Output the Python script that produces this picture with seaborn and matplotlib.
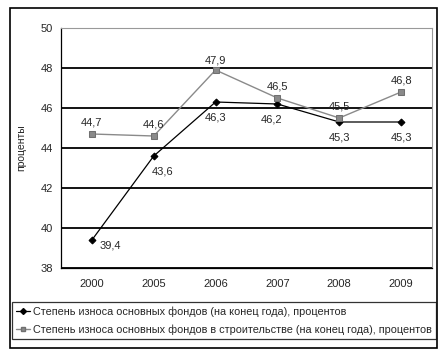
import matplotlib
matplotlib.use("Agg")
import matplotlib.pyplot as plt
import seaborn as sns
import pandas as pd
from matplotlib.patches import Rectangle
from matplotlib.lines import Line2D

years = ["2000", "2005", "2006", "2007", "2008", "2009"]
total = [39.4, 43.6, 46.3, 46.2, 45.3, 45.3]
construction = [44.7, 44.6, 47.9, 46.5, 45.5, 46.8]
name_total = "Степень износа основных фондов (на конец года), процентов"
name_constr = "Степень износа основных фондов в строительстве (на конец года), процентов"
y_label = "проценты"

sns.set_style("white")
plt.rcParams['font.family'] = ['Liberation Sans', 'DejaVu Sans']

fig = plt.figure(figsize=(4.47, 3.52), dpi=100)
ax = fig.add_axes([61/447, 1-268/352, (432-61)/447, (268-28)/352])

idx = list(range(len(years)))
df = pd.DataFrame({"x": idx * 2,
                   "y": total + construction,
                   "s": [name_total] * len(years) + [name_constr] * len(years)})

sns.lineplot(data=df[df.s == name_total], x="x", y="y", ax=ax, color="black",
             lw=0.9, marker="D", markersize=3.5, markeredgecolor="black", legend=False)
sns.lineplot(data=df[df.s == name_constr], x="x", y="y", ax=ax, color="#8a8a8a",
             lw=1.0, marker="s", markersize=4.5, markeredgecolor="#707070", legend=False)

ax.set_ylim(38, 50)
ax.set_xlim(-0.5, 5.5)
ax.set_yticks(range(38, 51, 2))
ax.set_xticks(idx)
ax.set_xticklabels(years)
ax.set_xticks([i - 0.5 for i in range(7)], minor=True)
ax.tick_params(axis='x', which='major', length=0, labelsize=8, pad=8)
ax.tick_params(axis='x', which='minor', length=4, width=0.9, color='black', direction='out')
ax.tick_params(axis='y', length=4, width=0.9, color='black', direction='out', labelsize=8, pad=2)
ax.set_xlabel("")
ax.set_ylabel(y_label, fontsize=7.5, labelpad=10)
ax.grid(axis='y', color='black', lw=1.3)
ax.set_axisbelow(True)
for s in ['left', 'bottom']:
    ax.spines[s].set_color('black')
    ax.spines[s].set_linewidth(0.9)
for s in ['top', 'right']:
    ax.spines[s].set_color('#999999')
    ax.spines[s].set_linewidth(0.8)

fmt = lambda v: f"{v:.1f}".replace(".", ",")
offs_total = [(13, -4), (6, -11), (0, -11), (-4, -11), (0, -11), (0, -11)]
for i, v in enumerate(total):
    ax.annotate(fmt(v), (i, v), xytext=offs_total[i], textcoords='offset points',
                ha='center', va='center', fontsize=8)
offs_c = [(0, 8), (0, 8), (0, 7), (0, 8), (0, 8), (0, 8)]
for i, v in enumerate(construction):
    ax.annotate(fmt(v), (i, v), xytext=offs_c[i], textcoords='offset points',
                ha='center', va='center', fontsize=8)

handles = [Line2D([], [], color='black', lw=0.9, marker='D', markersize=3),
           Line2D([], [], color='#8a8a8a', lw=1.0, marker='s', markersize=3.5, markeredgecolor='#707070')]
leg = fig.legend(handles, [name_total, name_constr], loc='upper left',
                 bbox_to_anchor=(12/447, 1-302/352), fontsize=7.8, frameon=True,
                 fancybox=False, edgecolor='black', handlelength=1.3, handletextpad=0.2,
                 borderpad=0.4, labelspacing=0.7, borderaxespad=0)
leg.get_frame().set_linewidth(0.9)

fig.patches.append(Rectangle((10/447, 1-348/352), 427/447, 340/352, transform=fig.transFigure,
                             fill=False, edgecolor='black', lw=1.2))

fig.savefig("out.png", dpi=100)
